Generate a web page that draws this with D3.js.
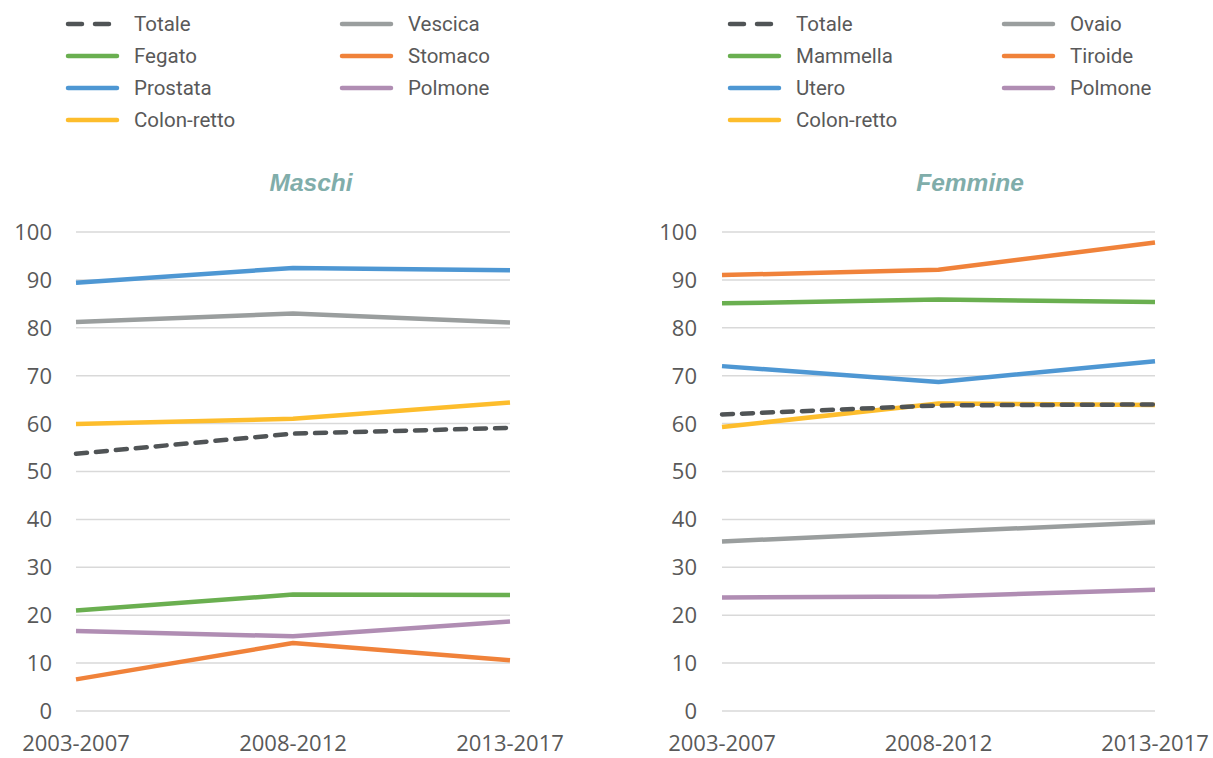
<!DOCTYPE html>
<html>
<head>
<meta charset="utf-8">
<script src="https://cdn.jsdelivr.net/npm/d3@7"></script>
<style>
  body { margin: 0; background: #fff; }
  svg { display: block; }
</style>
</head>
<body>
<svg id="chart" width="1213" height="758"></svg>
<script>
var periods = ['2003-2007', '2008-2012', '2013-2017'];
var yTicks = [0, 10, 20, 30, 40, 50, 60, 70, 80, 90, 100];

// maschi
var mTotale = [53.7, 57.9, 59.1];
var mFegato = [21.0, 24.3, 24.2];
var mProstata = [89.4, 92.5, 92.0];
var mColonRetto = [59.9, 61.0, 64.4];
var mVescica = [81.2, 83.0, 81.1];
var mStomaco = [6.6, 14.2, 10.6];
var mPolmone = [16.7, 15.6, 18.7];

// femmine
var fTotale = [61.9, 63.8, 64.0];
var fMammella = [85.1, 85.9, 85.4];
var fUtero = [72.0, 68.7, 73.0];
var fColonRetto = [59.3, 64.2, 63.9];
var fOvaio = [35.4, 37.4, 39.4];
var fTiroide = [91.0, 92.1, 97.8];
var fPolmone = [23.7, 23.9, 25.3];

var colors = {
  totale: '#505456',
  green: '#6aaf50',
  blue: '#4e97d3',
  yellow: '#fdbd2c',
  grey: '#9a9e9e',
  orange: '#f0823a',
  purple: '#b08db3'
};

var panels = [
  {
    title: 'Maschi', titleX: 311,
    x0: 76, x1: 510, labelX: 52, legendX: 66,
    series: [
      {name: 'Totale', values: mTotale, color: colors.totale, dashed: true},
      {name: 'Fegato', values: mFegato, color: colors.green},
      {name: 'Prostata', values: mProstata, color: colors.blue},
      {name: 'Colon-retto', values: mColonRetto, color: colors.yellow},
      {name: 'Vescica', values: mVescica, color: colors.grey},
      {name: 'Stomaco', values: mStomaco, color: colors.orange},
      {name: 'Polmone', values: mPolmone, color: colors.purple}
    ]
  },
  {
    title: 'Femmine', titleX: 970,
    x0: 722, x1: 1155, labelX: 697, legendX: 728,
    series: [
      {name: 'Totale', values: fTotale, color: colors.totale, dashed: true},
      {name: 'Mammella', values: fMammella, color: colors.green},
      {name: 'Utero', values: fUtero, color: colors.blue},
      {name: 'Colon-retto', values: fColonRetto, color: colors.yellow},
      {name: 'Ovaio', values: fOvaio, color: colors.grey},
      {name: 'Tiroide', values: fTiroide, color: colors.orange},
      {name: 'Polmone', values: fPolmone, color: colors.purple}
    ]
  }
];

var svg = d3.select('#chart');
var y = d3.scaleLinear().domain([0, 100]).range([711, 232]);
var axisFont = '"Open Sans", "DejaVu Sans", sans-serif';
var legendFont = 'Roboto, "Noto Sans", sans-serif';

panels.forEach(function(p) {
  var x = d3.scalePoint().domain(periods).range([p.x0, p.x1]);
  var g = svg.append('g');

  // griglia
  g.selectAll('line.grid')
    .data(yTicks)
    .enter().append('line')
    .attr('x1', p.x0)
    .attr('x2', p.x1)
    .attr('y1', function(d) { return y(d); })
    .attr('y2', function(d) { return y(d); })
    .attr('stroke', '#d9d9d9')
    .attr('stroke-width', 1.5);

  g.selectAll('text.ylab')
    .data(yTicks)
    .enter().append('text')
    .attr('x', p.labelX)
    .attr('y', function(d) { return y(d); })
    .attr('dy', '0.36em')
    .attr('text-anchor', 'end')
    .attr('font-family', axisFont)
    .attr('font-size', 22)
    .attr('fill', '#595959')
    .text(function(d) { return d; });

  g.selectAll('text.xlab')
    .data(periods)
    .enter().append('text')
    .attr('x', function(d) { return x(d); })
    .attr('y', 751)
    .attr('text-anchor', 'middle')
    .attr('font-family', axisFont)
    .attr('font-size', 22)
    .attr('fill', '#595959')
    .text(function(d) { return d; });

  g.append('text')
    .attr('x', p.titleX)
    .attr('y', 191)
    .attr('text-anchor', 'middle')
    .attr('font-family', 'Arial, "Liberation Sans", sans-serif')
    .attr('font-weight', 'bold')
    .attr('font-style', 'italic')
    .attr('font-size', 24.5)
    .attr('fill', '#80adaa')
    .text(p.title);

  var line = d3.line()
    .x(function(d, i) { return x(periods[i]); })
    .y(function(d) { return y(d); });

  // Totale sopra le altre linee
  g.selectAll('path.serie')
    .data(p.series.slice().reverse())
    .enter().append('path')
    .attr('d', function(s) { return line(s.values); })
    .attr('fill', 'none')
    .attr('stroke', function(s) { return s.color; })
    .attr('stroke-width', 4.5)
    .attr('stroke-linecap', function(s) { return s.dashed ? 'round' : 'butt'; })
    .attr('stroke-linejoin', 'round')
    .attr('stroke-dasharray', function(s) { return s.dashed ? '11,9' : null; });

  // legenda
  var items = g.selectAll('g.leg')
    .data(p.series)
    .enter().append('g')
    .attr('transform', function(s, i) {
      var col = i < 4 ? 0 : 1;
      var row = i < 4 ? i : i - 4;
      return 'translate(' + (p.legendX + col * 274) + ',' + (24 + row * 32) + ')';
    });

  items.append('line')
    .attr('x1', 2)
    .attr('x2', 51)
    .attr('stroke', function(s) { return s.color; })
    .attr('stroke-width', 4.5)
    .attr('stroke-linecap', 'round')
    .attr('stroke-dasharray', function(s) { return s.dashed ? '14,13' : null; });

  items.append('text')
    .attr('x', 68)
    .attr('dy', '0.36em')
    .attr('font-family', legendFont)
    .attr('font-size', 20.5)
    .attr('fill', '#595959')
    .text(function(s) { return s.name; });
});
</script>
</body>
</html>
